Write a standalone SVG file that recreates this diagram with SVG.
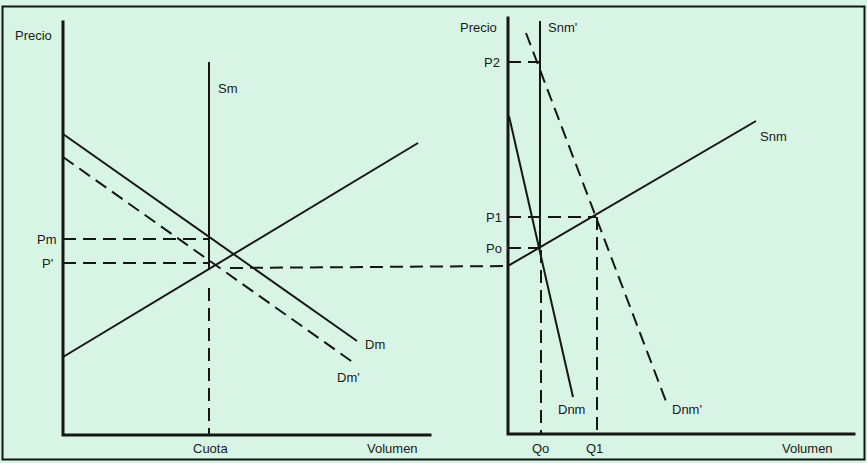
<svg xmlns="http://www.w3.org/2000/svg" width="867" height="463" viewBox="0 0 867 463">
<style>
.ax{stroke:#161616;stroke-width:3;fill:none;stroke-linecap:square}
.ln{stroke:#161616;stroke-width:2;fill:none}
.ds{stroke:#161616;stroke-width:2;fill:none;stroke-dasharray:13 7}
text{font-family:"Liberation Sans",Arial,sans-serif;font-size:13px;fill:#1a1a1a}
</style>
<rect x="0" y="0" width="867" height="463" fill="#d7f4e5"/>
<rect x="2.5" y="6.5" width="862" height="453" fill="none" stroke="#161616" stroke-width="2"/>
<g id="left-panel">
<g id="left-axes">
<polyline class="ax" points="63,22 63,435 430,435"/>
<text x="15" y="40">Precio</text>
<text x="193" y="453">Cuota</text>
<text x="367" y="453">Volumen</text>
</g>
<g id="Sm"><line class="ln" x1="209" y1="62" x2="209" y2="270"/><text x="218" y="93">Sm</text></g>
<g id="Dm"><line class="ln" x1="63" y1="134" x2="357" y2="341"/><text x="365" y="349">Dm</text></g>
<g id="Dm2"><line class="ds" x1="63" y1="157" x2="354" y2="363"/><text x="337" y="382">Dm'</text></g>
<g id="Supply"><line class="ln" x1="63" y1="357" x2="418" y2="143"/></g>
<g id="Pm"><text x="37" y="244">Pm</text></g>
<g id="Pprime"><text x="42" y="268">P'</text></g>
</g>
<g id="right-panel">
<g id="right-axes">
<polyline class="ax" points="508,18 508,434 854,434"/>
<text x="460" y="32">Precio</text>
<text x="782" y="453">Volumen</text>
</g>
<g id="Snm2"><line class="ln" x1="540" y1="21" x2="540" y2="249"/><text x="548" y="32">Snm'</text></g>
<g id="Dnm2"><line class="ds" x1="526" y1="33" x2="667" y2="404"/><text x="672" y="414">Dnm'</text></g>
<g id="Dnm"><line class="ln" x1="509" y1="116" x2="573" y2="397"/><text x="558" y="414">Dnm</text></g>
<g id="Snm"><line class="ln" x1="508" y1="266" x2="756" y2="121"/><text x="760" y="141">Snm</text></g>
<g id="P2"><text x="484" y="67">P2</text></g>
<g id="P1"><text x="486" y="222">P1</text></g>
<g id="Po"><text x="486" y="253">Po</text></g>
<g id="Qo"><text x="532" y="453">Qo</text></g>
<g id="Q1"><text x="586" y="453">Q1</text></g>
</g>
<g id="connectors">
<line class="ds" x1="63" y1="239" x2="209" y2="239"/>
<line class="ds" x1="63" y1="263" x2="209" y2="263"/>
<line class="ds" x1="209" y1="288" x2="209" y2="435"/>
<line class="ds" x1="230" y1="268" x2="508" y2="266"/>
<line class="ds" stroke-dasharray="9 6" x1="508" y1="62" x2="540" y2="62"/>
<line class="ds" x1="508" y1="217" x2="596" y2="217"/>
<line class="ds" stroke-dasharray="9 6" x1="508" y1="248" x2="540" y2="248"/>
<line class="ds" x1="541" y1="250" x2="541" y2="434"/>
<line class="ds" x1="597" y1="217" x2="597" y2="434"/>
</g>
</svg>
